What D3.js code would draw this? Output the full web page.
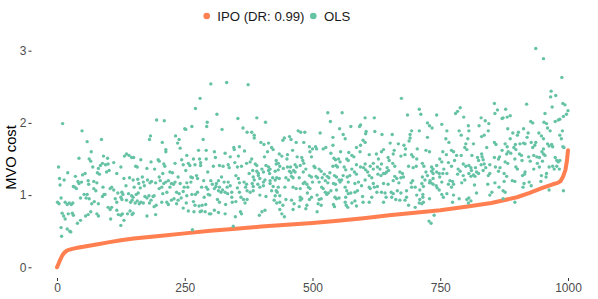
<!DOCTYPE html>
<html><head><meta charset="utf-8">
<script src="https://cdn.jsdelivr.net/npm/d3@7"></script>
<style>
html,body{margin:0;padding:0;background:#fff;}
svg{display:block;font-family:"Liberation Sans",Arial,sans-serif;}
</style></head>
<body><svg id="chart" width="598" height="299"></svg>
<script>
// ---- data ----
const seriesNames = ["IPO (DR: 0.99)", "OLS"];
const xTicks = [0, 250, 500, 750, 1000];
const yTicks = [0, 1, 2, 3];
const yTitle = "MVO cost";

// IPO cost, sorted, read at selected indices
const ipoIndex = [0,3,6,10,14,20,30,40,60,80,100,125,150,200,250,300,350,400,450,500,550,600,650,700,750,800,850,900,925,950,970,980,985,990,995,998,1000];
const ipoCost  = [0,0.05,0.10,0.16,0.20,0.235,0.255,0.27,0.295,0.32,0.345,0.375,0.40,0.435,0.47,0.505,0.535,0.565,0.59,0.615,0.645,0.68,0.72,0.755,0.79,0.84,0.89,0.97,1.03,1.10,1.15,1.17,1.19,1.25,1.35,1.48,1.62];

// OLS cost: [index, cost]
const olsPoints = [
[11,1.99],[49,1.89],[59,1.74],[87,1.77],[67,1.60],[3,1.39],[43,1.51],[91,1.54],[99,1.51],[63,1.50],[66,1.47],[21,1.31],[5,1.23],[14,1.21],[6,1.14],[36,1.26],[50,1.28],[55,1.30],[79,1.31],[81,1.37],[85,1.41],[83,1.29],[70,1.39],[89,1.44],[95,1.42],[100,1.43],[97,1.32],[102,1.34],[111,1.45],[117,1.30],[41,1.19],[43,1.16],[32,1.12],[35,1.11],[38,1.09],[48,1.18],[61,1.20],[62,1.15],[72,1.19],[78,1.17],[72,1.09],[76,1.06],[90,1.11],[94,1.01],[104,1.09],[107,1.11],[111,1.07],[119,1.03],[53,1.01],[57,0.96],[46,0.96],[59,1.01],[1,0.90],[4,0.88],[8,0.96],[16,0.90],[20,0.87],[24,0.89],[28,0.87],[31,0.89],[63,0.95],[68,0.88],[73,0.91],[81,0.88],[89,0.98],[92,1.01],[100,0.83],[104,0.80],[107,0.83],[114,0.95],[117,0.90],[10,0.75],[13,0.71],[16,0.67],[22,0.74],[30,0.75],[32,0.72],[56,0.71],[61,0.73],[66,0.77],[78,0.74],[81,0.71],[105,0.67],[117,0.79],[120,0.73],[8,0.55],[20,0.53],[25,0.50],[27,0.49],[40,0.61],[46,0.65],[9,0.43],
[195,2.04],[210,2.03],[183,1.82],[181,1.77],[206,1.73],[232,1.82],[239,1.77],[236,1.72],[213,1.63],[213,1.60],[241,1.65],[250,1.92],[132,1.54],[136,1.57],[141,1.55],[146,1.52],[150,1.52],[125,1.39],[154,1.40],[157,1.39],[164,1.49],[176,1.37],[184,1.46],[191,1.36],[198,1.49],[200,1.47],[209,1.43],[211,1.40],[231,1.44],[244,1.49],[247,1.42],[221,1.32],[226,1.31],[207,1.30],[131,1.23],[135,1.13],[142,1.24],[149,1.21],[151,1.11],[158,1.22],[160,1.16],[167,1.25],[169,1.18],[171,1.13],[177,1.21],[182,1.17],[185,1.19],[193,1.17],[200,1.25],[202,1.20],[209,1.16],[213,1.18],[218,1.20],[228,1.15],[231,1.18],[237,1.25],[241,1.16],[249,1.11],[127,1.04],[129,1.01],[140,1.02],[146,0.99],[149,0.97],[155,1.01],[159,1.03],[163,1.10],[172,0.98],[176,0.96],[180,0.99],[188,0.98],[190,0.99],[200,1.09],[205,1.11],[207,1.02],[215,1.04],[221,1.11],[224,1.16],[234,1.04],[239,1.02],[247,1.05],[125,0.97],[127,0.94],[136,0.93],[144,0.90],[147,0.93],[153,0.89],[157,0.92],[161,0.88],[164,0.90],[169,0.89],[181,0.89],[184,0.93],[190,0.84],[194,0.86],[205,0.90],[215,0.90],[218,0.87],[224,0.93],[229,0.95],[234,0.88],[237,0.93],[243,0.96],[125,0.72],[128,0.74],[138,0.74],[143,0.78],[147,0.73],[149,0.75],[176,0.71],[193,0.73],[247,0.82],[131,0.65],[125,0.58],
[301,2.54],[332,2.56],[374,2.53],[280,2.34],[271,2.20],[313,2.12],[294,2.01],[293,1.95],[354,2.06],[364,1.93],[323,1.91],[252,1.91],[264,1.95],[372,1.87],[286,1.77],[277,1.62],[292,1.62],[308,1.60],[346,1.66],[357,1.67],[347,1.63],[367,1.61],[254,1.55],[267,1.50],[279,1.50],[281,1.45],[292,1.50],[310,1.52],[329,1.58],[339,1.53],[355,1.54],[257,1.44],[260,1.41],[270,1.42],[281,1.41],[295,1.32],[306,1.40],[318,1.41],[325,1.40],[335,1.42],[337,1.38],[348,1.45],[353,1.39],[361,1.40],[371,1.44],[252,1.34],[262,1.25],[265,1.24],[273,1.27],[275,1.23],[287,1.20],[301,1.20],[304,1.15],[312,1.16],[316,1.20],[322,1.25],[327,1.18],[335,1.18],[339,1.13],[350,1.27],[355,1.23],[357,1.17],[366,1.18],[371,1.15],[376,1.30],[254,1.17],[256,1.11],[262,1.18],[283,1.11],[292,1.11],[295,1.08],[308,1.09],[311,1.12],[318,1.11],[324,1.07],[333,1.11],[342,1.04],[353,1.10],[357,1.04],[369,1.11],[372,1.06],[254,0.99],[264,1.01],[271,1.01],[275,1.04],[288,0.97],[296,1.01],[299,1.00],[316,1.06],[321,1.04],[329,1.04],[334,1.02],[342,0.97],[360,0.97],[365,0.94],[253,0.89],[267,0.91],[270,0.86],[284,0.86],[278,0.85],[291,0.87],[314,0.94],[318,0.90],[330,0.87],[343,0.90],[350,0.91],[368,0.89],[372,0.94],[257,0.78],[268,0.77],[280,0.77],[283,0.78],[290,0.77],[298,0.74],[301,0.74],[308,0.79],[316,0.76],[329,0.74],[359,0.77],[361,0.74],[349,0.70],[345,0.57],[265,0.52],
[391,2.07],[408,2.01],[381,1.87],[386,1.83],[386,1.79],[472,1.89],[477,1.87],[485,1.87],[442,1.76],[445,1.79],[455,1.81],[458,1.77],[399,1.73],[405,1.70],[414,1.72],[420,1.66],[423,1.63],[412,1.60],[461,1.62],[468,1.73],[483,1.73],[494,1.67],[500,1.64],[495,1.60],[435,1.57],[440,1.54],[451,1.56],[450,1.50],[470,1.53],[479,1.52],[481,1.48],[498,1.53],[406,1.53],[381,1.50],[378,1.46],[429,1.48],[388,1.43],[391,1.41],[409,1.41],[414,1.39],[429,1.43],[433,1.44],[436,1.40],[443,1.37],[451,1.39],[457,1.39],[466,1.42],[469,1.39],[476,1.41],[483,1.44],[487,1.36],[503,1.40],[383,1.34],[391,1.33],[394,1.30],[401,1.36],[404,1.32],[414,1.34],[417,1.36],[416,1.30],[427,1.33],[433,1.35],[455,1.33],[458,1.31],[463,1.34],[466,1.32],[482,1.32],[494,1.27],[498,1.25],[384,1.25],[386,1.21],[394,1.27],[397,1.23],[404,1.18],[407,1.21],[417,1.20],[422,1.24],[427,1.21],[430,1.24],[435,1.23],[448,1.24],[453,1.21],[459,1.26],[462,1.24],[474,1.24],[485,1.18],[489,1.15],[500,1.18],[382,1.16],[384,1.12],[393,1.15],[397,1.11],[404,1.13],[417,1.16],[423,1.12],[433,1.11],[446,1.11],[462,1.11],[468,1.09],[476,1.09],[482,1.16],[492,1.11],[495,1.09],[378,1.04],[384,1.06],[397,1.00],[420,1.06],[429,1.06],[431,1.04],[490,1.03],[427,0.99],[436,0.99],[448,0.94],[476,0.97],[479,0.95],[409,0.98],[494,0.94],[498,0.97],[425,0.93],[430,0.89],[436,0.90],[459,0.93],[464,0.88],[476,0.93],[407,0.79],[436,0.80],[442,0.86],[489,0.86],[487,0.81],[401,0.77],[396,0.72],[474,0.84],[462,0.80],[440,0.74],[445,0.70],
[530,2.14],[558,2.14],[535,2.02],[603,2.07],[621,2.07],[575,1.95],[592,1.95],[594,1.97],[553,1.92],[605,1.88],[604,1.85],[622,1.88],[515,1.86],[560,1.84],[564,1.78],[540,1.80],[506,1.67],[508,1.64],[521,1.64],[526,1.66],[536,1.58],[540,1.69],[599,1.76],[603,1.73],[586,1.66],[594,1.69],[593,1.60],[555,1.60],[571,1.59],[577,1.55],[567,1.50],[570,1.48],[581,1.53],[551,1.50],[542,1.51],[545,1.49],[625,1.57],[629,1.50],[611,1.56],[554,1.46],[603,1.43],[600,1.38],[586,1.42],[619,1.44],[613,1.40],[505,1.38],[513,1.36],[517,1.33],[523,1.29],[534,1.31],[540,1.40],[546,1.41],[549,1.39],[562,1.39],[565,1.35],[577,1.36],[594,1.39],[604,1.35],[608,1.32],[619,1.36],[627,1.39],[507,1.26],[510,1.24],[519,1.24],[529,1.26],[532,1.24],[543,1.27],[547,1.25],[560,1.27],[568,1.25],[573,1.27],[582,1.32],[586,1.29],[603,1.21],[611,1.27],[616,1.24],[628,1.29],[513,1.18],[518,1.11],[525,1.20],[530,1.17],[541,1.16],[545,1.15],[552,1.21],[554,1.18],[557,1.21],[570,1.18],[583,1.16],[590,1.18],[596,1.13],[611,1.11],[619,1.16],[621,1.11],[627,1.12],[521,1.09],[525,1.04],[531,1.03],[536,1.06],[547,1.07],[564,1.11],[567,1.06],[575,1.03],[583,1.04],[588,1.06],[613,1.09],[626,1.04],[509,1.00],[513,0.94],[517,0.95],[528,1.01],[544,0.97],[547,0.95],[552,0.96],[565,0.97],[570,1.02],[598,0.98],[616,0.97],[511,0.88],[517,0.86],[541,0.87],[564,0.90],[577,0.89],[583,0.92],[599,0.90],[611,0.90],[509,0.77],[543,0.84],[566,0.86],[569,0.83],[586,0.85],
[674,2.34],[709,2.19],[712,2.12],[686,2.11],[743,2.11],[725,2.00],[729,1.96],[753,1.98],[734,1.93],[694,1.89],[691,1.84],[709,1.89],[636,1.84],[656,1.84],[725,1.80],[691,1.79],[652,1.72],[668,1.71],[679,1.69],[682,1.64],[705,1.64],[722,1.62],[729,1.60],[689,1.75],[639,1.63],[635,1.60],[660,1.62],[658,1.57],[681,1.56],[694,1.56],[697,1.53],[673,1.54],[755,1.60],[648,1.52],[650,1.48],[704,1.50],[749,1.50],[753,1.46],[635,1.43],[657,1.44],[661,1.40],[688,1.40],[697,1.38],[703,1.40],[715,1.44],[718,1.40],[733,1.39],[736,1.36],[743,1.41],[757,1.36],[632,1.36],[646,1.38],[649,1.34],[634,1.27],[639,1.30],[642,1.30],[645,1.32],[671,1.32],[676,1.30],[722,1.32],[725,1.27],[733,1.33],[736,1.30],[743,1.32],[748,1.30],[755,1.30],[661,1.26],[665,1.23],[673,1.24],[678,1.25],[696,1.20],[693,1.17],[715,1.25],[720,1.21],[730,1.20],[736,1.23],[749,1.25],[753,1.18],[639,1.16],[658,1.20],[648,1.15],[669,1.17],[701,1.11],[714,1.16],[717,1.12],[729,1.17],[742,1.13],[744,1.10],[635,1.04],[642,1.03],[654,1.04],[658,1.02],[666,1.06],[673,1.03],[684,1.06],[694,1.11],[710,1.07],[716,1.01],[732,1.17],[736,1.15],[748,1.07],[753,1.01],[644,0.97],[655,0.97],[663,0.94],[671,0.93],[684,0.97],[704,1.00],[716,0.97],[756,0.97],[639,0.90],[681,0.93],[710,0.94],[717,0.90],[714,0.88],[729,0.95],[688,0.86],[701,0.83],[709,0.89],[738,0.72],[728,0.64],[732,0.61],
[856,2.27],[862,2.18],[857,2.13],[878,2.19],[789,2.21],[784,2.16],[780,2.13],[796,2.08],[830,2.07],[838,2.03],[845,1.99],[871,2.06],[873,2.07],[881,2.08],[805,1.96],[806,1.89],[826,1.96],[844,1.89],[763,1.89],[787,1.89],[791,1.83],[831,1.81],[836,1.83],[882,1.92],[804,1.78],[761,1.78],[767,1.73],[800,1.71],[798,1.66],[802,1.63],[815,1.71],[856,1.73],[859,1.70],[877,1.71],[881,1.67],[841,1.66],[772,1.62],[776,1.60],[871,1.62],[782,1.55],[791,1.55],[762,1.56],[812,1.55],[831,1.57],[856,1.52],[864,1.50],[866,1.53],[880,1.57],[883,1.60],[823,1.52],[825,1.48],[832,1.53],[834,1.49],[766,1.45],[778,1.48],[795,1.43],[800,1.40],[806,1.41],[810,1.38],[819,1.38],[830,1.42],[836,1.43],[839,1.38],[847,1.42],[858,1.39],[867,1.38],[877,1.46],[882,1.44],[772,1.40],[785,1.36],[789,1.33],[811,1.34],[815,1.28],[821,1.32],[825,1.30],[844,1.27],[847,1.30],[864,1.33],[875,1.30],[880,1.26],[763,1.30],[769,1.20],[774,1.19],[766,1.15],[795,1.27],[798,1.21],[784,1.29],[806,1.30],[810,1.26],[818,1.26],[834,1.34],[857,1.17],[875,1.19],[772,1.11],[776,1.15],[792,1.17],[817,1.14],[843,1.15],[865,1.11],[763,1.02],[776,1.00],[821,1.03],[851,1.04],[847,1.00],[873,1.06],[877,1.04],[787,0.95],[802,0.94],[806,0.96],[805,0.89],[810,0.92],[774,0.90],[873,0.95],
[937,3.03],[952,2.89],[988,2.63],[967,2.44],[976,2.38],[966,2.36],[919,2.26],[990,2.27],[994,2.25],[969,2.22],[1000,2.17],[997,2.12],[955,2.13],[991,2.09],[887,2.10],[975,2.02],[981,2.04],[984,2.05],[927,2.02],[931,2.00],[953,2.01],[958,1.99],[960,1.93],[965,1.89],[989,1.89],[903,1.87],[913,1.92],[922,1.86],[920,1.80],[892,1.86],[901,1.83],[984,1.83],[987,1.78],[943,1.86],[948,1.82],[952,1.78],[887,1.78],[928,1.73],[937,1.73],[960,1.71],[963,1.68],[970,1.67],[968,1.70],[990,1.67],[992,1.66],[913,1.72],[906,1.71],[916,1.71],[897,1.70],[894,1.66],[931,1.66],[935,1.69],[952,1.64],[949,1.60],[898,1.63],[888,1.58],[905,1.57],[909,1.55],[923,1.53],[933,1.55],[939,1.53],[944,1.52],[952,1.57],[955,1.55],[975,1.52],[978,1.48],[981,1.46],[984,1.48],[910,1.48],[896,1.50],[926,1.47],[950,1.47],[963,1.39],[970,1.40],[973,1.36],[978,1.40],[983,1.36],[898,1.39],[901,1.36],[916,1.32],[911,1.27],[915,1.29],[940,1.44],[944,1.39],[933,1.36],[958,1.30],[891,1.20],[896,1.19],[914,1.16],[948,1.27],[928,1.13],[947,1.19],[957,1.25],[912,1.11],[963,1.07],[991,1.06],[896,0.90],[924,1.18]
];

// ---- drawing ----
const colors = {IPO: "#FF7F50", OLS: "#66C2A5"};
const svg = d3.select("#chart");
const x = d3.scaleLinear().domain([0, 1000]).range([57, 568]);
const y = d3.scaleLinear().domain([0, 3]).range([267.3, 50.7]);
const panel = {left: 31.5, bottom: 278};

// y axis
const yAxis = svg.append("g").attr("transform", `translate(${panel.left},0)`)
  .call(d3.axisLeft(y).tickValues(yTicks).tickFormat(d3.format("d")).tickSize(3).tickPadding(2));
yAxis.select(".domain").remove();
yAxis.selectAll("line").attr("stroke", "#333").attr("stroke-width", 1);
yAxis.selectAll("text").attr("fill", "#4d4d4d").style("font-size", "12px").attr("font-family", "Liberation Sans, Arial, sans-serif");

// x axis
const xAxis = svg.append("g").attr("transform", `translate(0,${panel.bottom})`)
  .call(d3.axisBottom(x).tickValues(xTicks).tickFormat(d3.format("d")).tickSize(3).tickPadding(2));
xAxis.select(".domain").remove();
xAxis.selectAll("line").attr("stroke", "#333").attr("stroke-width", 1);
xAxis.selectAll("text").attr("fill", "#4d4d4d").style("font-size", "12px").attr("font-family", "Liberation Sans, Arial, sans-serif");

// y title
svg.append("text").attr("transform", "translate(15.5,157.5) rotate(-90)")
  .attr("text-anchor", "middle").style("font-size", "14.7px").attr("fill", "#000").text(yTitle);

// IPO line
const ipoData = ipoIndex.map((d, i) => [d, ipoCost[i]]);
svg.append("path").datum(ipoData)
  .attr("d", d3.line().x(d => x(d[0])).y(d => y(d[1])))
  .attr("fill", "none").attr("stroke", colors.IPO).attr("stroke-width", 4)
  .attr("stroke-linejoin", "round").attr("stroke-linecap", "round");

// OLS points
svg.append("g").selectAll("circle").data(olsPoints).join("circle")
  .attr("cx", d => x(d[0])).attr("cy", d => y(d[1])).attr("r", 1.7)
  .attr("fill", colors.OLS);

// legend
const leg = svg.append("g").style("font-size", "13.2px");
leg.append("circle").attr("cx", 206.7).attr("cy", 16).attr("r", 3.3).attr("fill", colors.IPO);
leg.append("text").attr("x", 217.3).attr("y", 20.8).attr("fill", "#1a1a1a").text(seriesNames[0]);
leg.append("circle").attr("cx", 313.3).attr("cy", 16).attr("r", 3.3).attr("fill", colors.OLS);
leg.append("text").attr("x", 324).attr("y", 20.8).attr("fill", "#1a1a1a").text(seriesNames[1]);
</script></body></html>
